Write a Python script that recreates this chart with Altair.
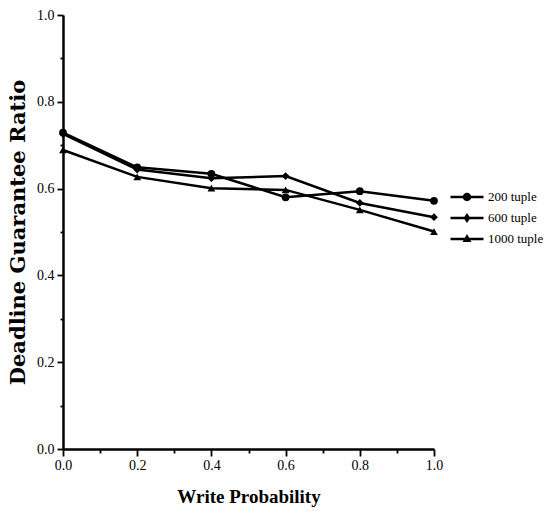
import altair as alt
import pandas as pd

write_prob = [0.0, 0.2, 0.4, 0.6, 0.8, 1.0]
series_names = ["200 tuple", "600 tuple", "1000 tuple"]
vals_200 = [0.729, 0.649, 0.634, 0.580, 0.594, 0.572]
vals_600 = [0.726, 0.644, 0.624, 0.629, 0.567, 0.534]
vals_1000 = [0.689, 0.627, 0.601, 0.597, 0.551, 0.501]

rows = []
for name, vals in zip(series_names, [vals_200, vals_600, vals_1000]):
    for x, v in zip(write_prob, vals):
        rows.append({"wp": x, "ratio": v, "series": name})
df = pd.DataFrame(rows)

tick_vals = [round(i * 0.1, 1) for i in range(11)]
label_expr = "(round(datum.value*10) % 2 == 0) ? format(datum.value, '.1f') : ''"
minor_test = "round(datum.value*10) % 2 == 1"

x_axis = alt.Axis(
    values=tick_vals, labelExpr=label_expr, title="Write Probability",
    tickSize={"condition": {"test": minor_test, "value": 4}, "value": 7},
    labelFont="Liberation Serif", labelFontSize=14, labelColor="black", labelPadding=2,
    titleFont="Liberation Serif", titleFontSize=19, titleFontWeight="bold", titleColor="black",
    titlePadding=15, domainColor="black", domainWidth=2.5, tickColor="black", tickWidth=1.8,
    grid=False, labelFlush=False,
)
y_axis = alt.Axis(
    values=tick_vals, labelExpr=label_expr, title="Deadline Guarantee Ratio",
    tickSize={"condition": {"test": minor_test, "value": 3}, "value": 6},
    labelFont="Liberation Serif", labelFontSize=14, labelColor="black", labelPadding=3,
    titleFont="DejaVu Serif", titleFontSize=21, titleFontWeight="bold", titleColor="black",
    titlePadding=8, domainColor="black", domainWidth=2.5, tickColor="black", tickWidth=1.8,
    grid=False, labelFlush=False,
)

x_enc = alt.X("wp:Q", scale=alt.Scale(domain=[0, 1], nice=False), axis=x_axis)
y_enc = alt.Y("ratio:Q", scale=alt.Scale(domain=[0, 1], nice=False), axis=y_axis)

lines = alt.Chart(df).mark_line(color="black", strokeWidth=2.5).encode(
    x=x_enc, y=y_enc, detail="series:N"
)

points = alt.Chart(df).mark_point(filled=True, color="black", opacity=1, size=60).encode(
    x=x_enc, y=y_enc,
    shape=alt.Shape("series:N", scale=alt.Scale(domain=series_names,
                                                range=["circle", "diamond", "triangle-up"]),
                    legend=None),
)

bar = "M-1.65,-0.12L1.65,-0.12L1.65,0.12L-1.65,0.12Z"
legend_paths = [
    bar + "M-0.42,0A0.42,0.42 0 1,1 0.42,0A0.42,0.42 0 1,1 -0.42,0Z",
    bar + "M0,-0.5L0.34,0L0,0.5L-0.34,0Z",
    bar + "M0,-0.5L0.44,0.3L-0.44,0.3Z",
]
legend_layer = alt.Chart(df).transform_filter("false").mark_point(
    filled=True, color="black", opacity=1
).encode(
    shape=alt.Shape("series:N", scale=alt.Scale(domain=series_names, range=legend_paths),
                    legend=alt.Legend(
                        title=None, orient="none", legendX=393, legendY=171,
                        symbolSize=400, symbolFillColor="black",
                        labelFont="Liberation Serif", labelFontSize=13,
                        labelColor="black", rowPadding=2, labelOffset=10,
                    )),
)

chart = alt.layer(lines, points, legend_layer).resolve_scale(shape="independent").properties(
    width=371, height=434,
    autosize=alt.AutoSizeParams(type="none"),
    padding={"left": 63, "top": 15, "right": 115, "bottom": 70},
    background="white",
).configure_view(stroke=None)

chart.save("out.html", embed_options={"renderer": "svg", "actions": False})
